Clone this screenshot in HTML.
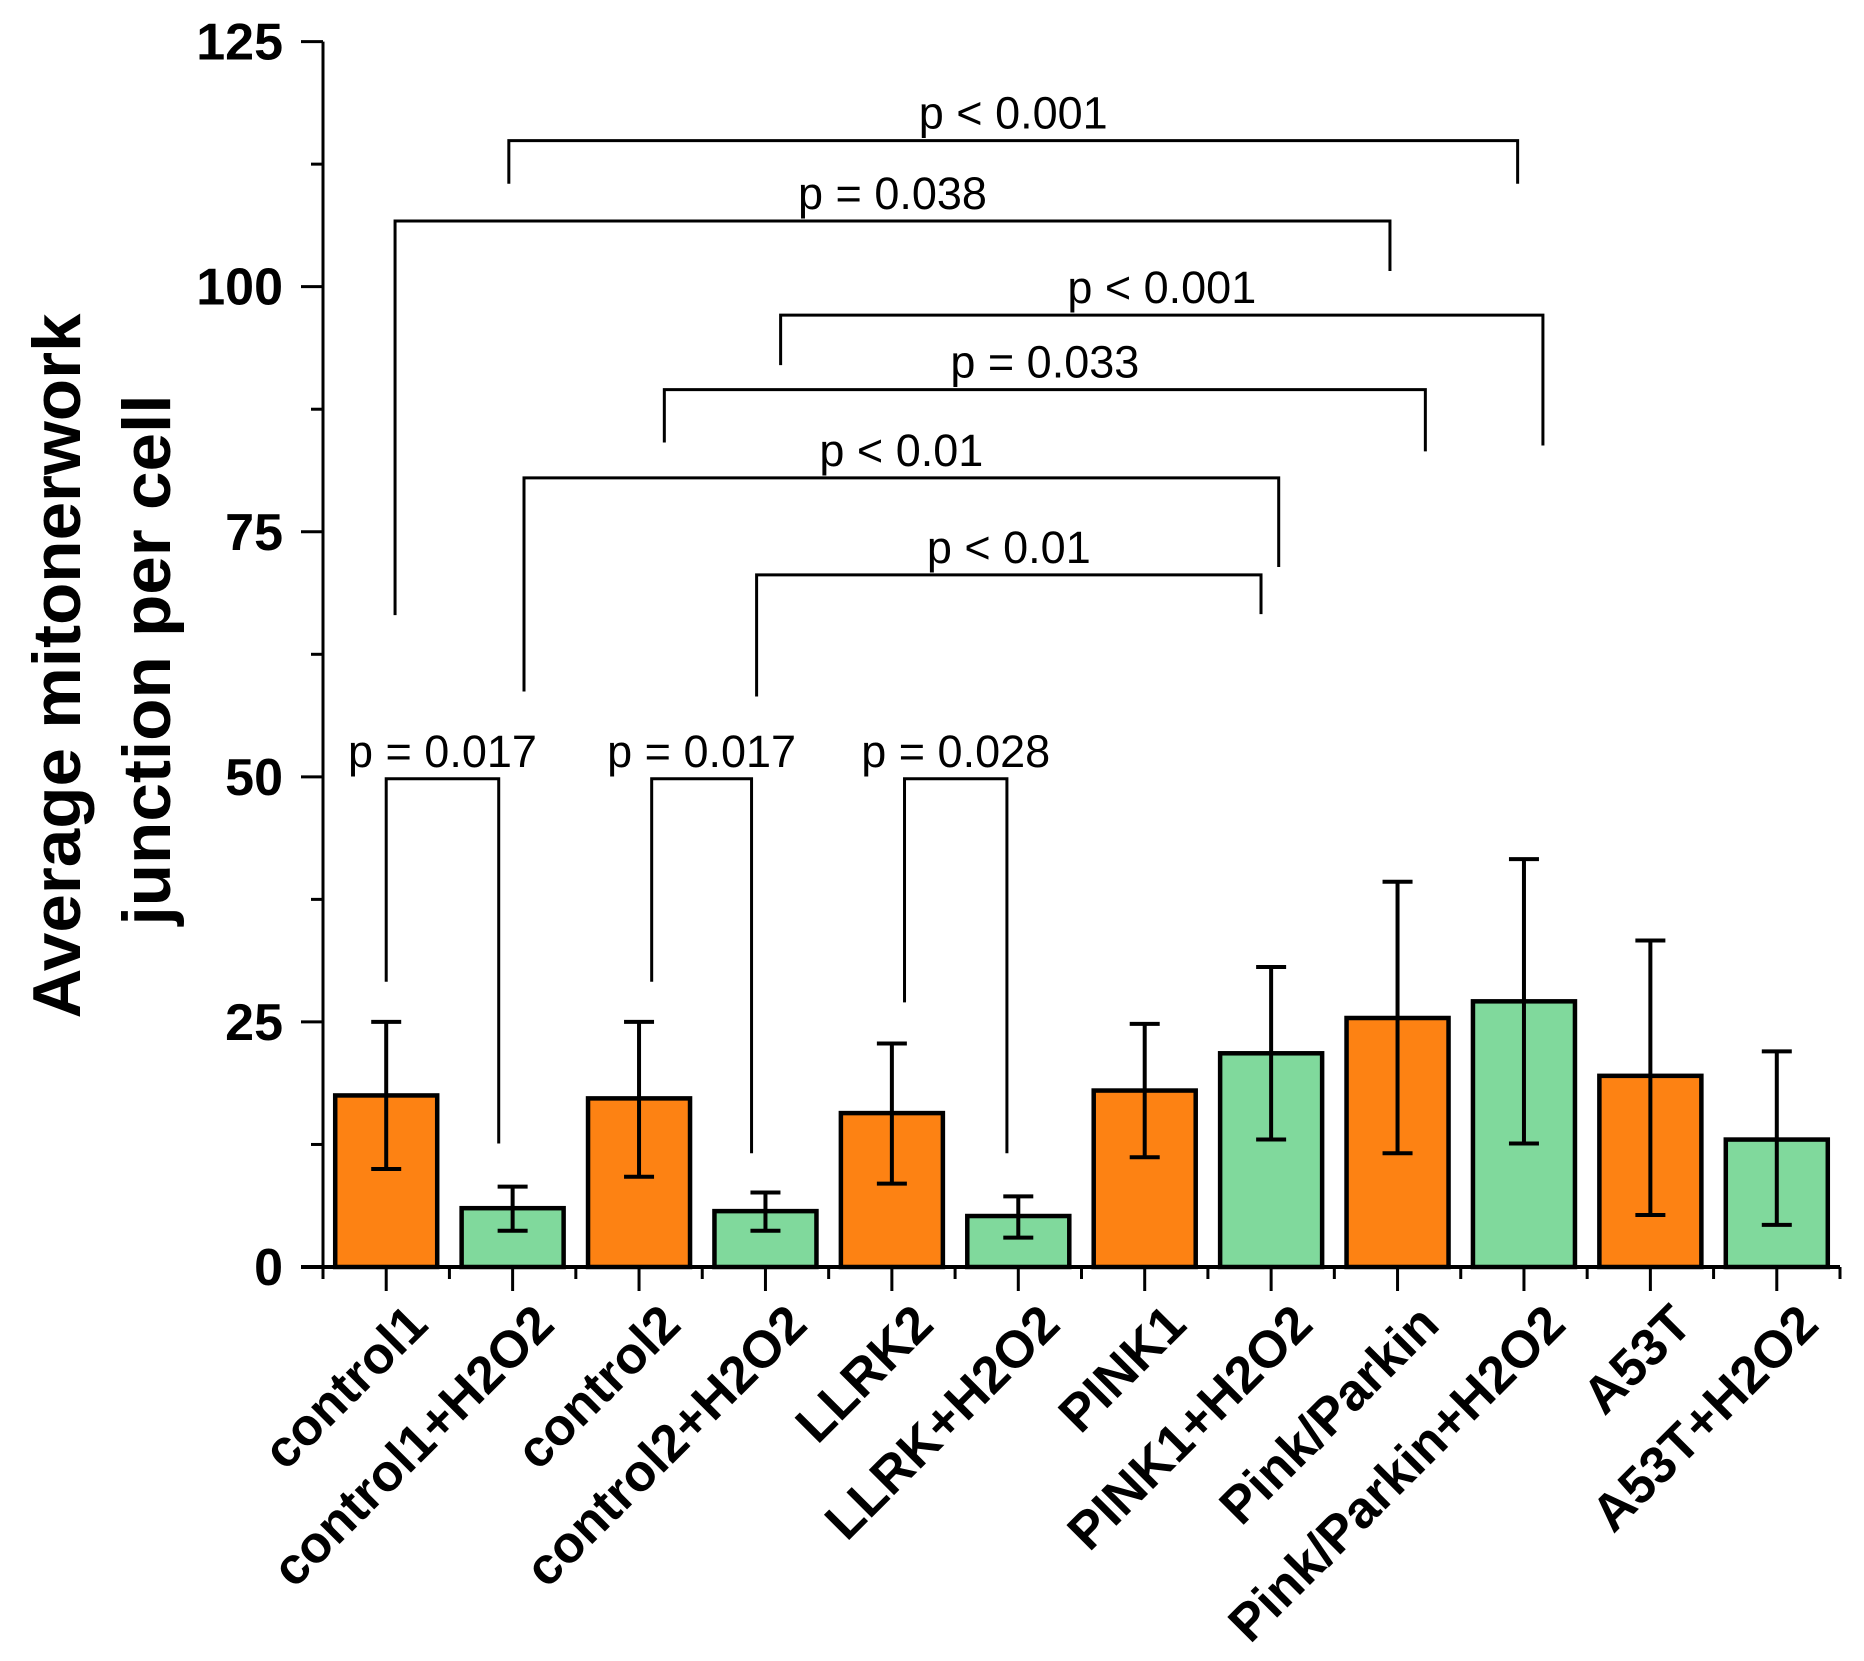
<!DOCTYPE html>
<html><head><meta charset="utf-8"><style>
html,body{margin:0;padding:0;background:#fff;}
svg{display:block;font-family:"Liberation Sans",Arial,sans-serif;}
</style></head><body>
<svg id="chart" width="1864" height="1661" viewBox="0 0 1864 1661" xmlns="http://www.w3.org/2000/svg">
<g id="axes"></g>
<g id="brackets"></g>
<g id="bars"></g>
<text transform="translate(80,666) rotate(-90)" text-anchor="middle" font-weight="bold" font-size="68" textLength="705" lengthAdjust="spacingAndGlyphs">Average mitonerwork</text>
<text transform="translate(170,660) rotate(-90)" text-anchor="middle" font-weight="bold" font-size="68" textLength="531" lengthAdjust="spacingAndGlyphs">junction per cell</text>
</svg>
<script>
const categories = ["control1","control1+H2O2","control2","control2+H2O2","LLRK2","LLRK+H2O2","PINK1","PINK1+H2O2","Pink/Parkin","Pink/Parkin+H2O2","A53T","A53T+H2O2"];
const means = [17.5,6,17.2,5.7,15.7,5.2,18,21.8,25.4,27.1,19.5,13];
const errUpper = [25,8.2,25,7.6,22.8,7.2,24.8,30.6,39.3,41.6,33.3,22];
const errLower = [10,3.7,9.2,3.7,8.5,3.0,11.2,13,11.6,12.6,5.3,4.3];
const groupType = ["c","t","c","t","c","t","c","t","c","t","c","t"];
const yTicks = [0,25,50,75,100,125];
const yTickLabels = ["0","25","50","75","100","125"];
// brackets: [x1 (category units), x2, y, leftLegEnd, rightLegEnd, label]
const bracketX1 = [0.97,0.07,3.12,2.20,1.09,2.93,0,2.10,4.10];
const bracketX2 = [8.95,7.94,9.15,8.22,7.06,6.92,0.89,2.89,4.91];
const bracketY = [114.9,106.7,97.1,89.5,80.5,70.6,49.8,49.8,49.8];
const bracketLeftEnd = [110.5,66.5,92,84.1,58.7,58.2,29.1,29.1,27];
const bracketRightEnd = [110.5,101.6,83.8,83.2,71.4,66.6,12.6,11.6,11.6];
const bracketLabels = ["p < 0.001","p = 0.038","p < 0.001","p = 0.033","p < 0.01","p < 0.01","p = 0.017","p = 0.017","p = 0.028"];

const NS="http://www.w3.org/2000/svg";
const X0=323,X1=1840,Y0=1267,Y1=41.6;
const step=(X1-X0)/categories.length;
const x=i=>X0+step*(i+0.5);
const y=v=>Y0-(v/125)*(Y0-Y1);
function mk(tag,attrs,parent){const e=document.createElementNS(NS,tag);for(const k in attrs)e.setAttribute(k,attrs[k]);parent.appendChild(e);return e;}
const axes=document.getElementById('axes'),bg=document.getElementById('bars'),br=document.getElementById('brackets');

let l=mk('line',{x1:X0,y1:Y0,x2:X0,y2:Y1,stroke:'#000','stroke-width':3},axes);


for(let v=0;v<=125;v+=12.5){
  const major=(v%25===0);
  const t=mk('line',{x1:X0-(major?22:12),x2:X0,y1:y(v),y2:y(v),stroke:'#000','stroke-width':3},axes);
  
  
}
yTicks.forEach((v,i)=>{
  const t=mk('text',{x:283,y:y(v)+18,'text-anchor':'end','font-weight':'bold','font-size':52},axes);
  t.textContent=yTickLabels[i];
  
  
});
l=mk('line',{x1:X0-22,y1:Y0,x2:X1,y2:Y0,stroke:'#000','stroke-width':4},axes);


for(let i=0;i<=categories.length;i++){
  const t=mk('line',{x1:X0+step*i,x2:X0+step*i,y1:Y0,y2:Y0+12,stroke:'#000','stroke-width':3},axes);
  
  
}
categories.forEach((c,i)=>{
  const t=mk('line',{x1:x(i),x2:x(i),y1:Y0,y2:Y0+24,stroke:'#000','stroke-width':3},axes);
  
  
  const tx=mk('text',{'text-anchor':'end','font-weight':'bold','font-size':52,transform:`translate(${x(i)+44},${Y0+60}) rotate(-45)`},axes);
  tx.textContent=c;
  
  
});
const BW=102;
categories.forEach((c,i)=>{
  const r=mk('rect',{x:x(i)-BW/2,y:y(means[i]),width:BW,height:Y0-y(means[i]),fill:groupType[i]==='c'?'#fd8213':'#80d99c',stroke:'#000','stroke-width':4.5},bg);
  
  
  const g=mk('g',{stroke:'#000','stroke-width':4},bg);
  
  
  mk('line',{x1:x(i),x2:x(i),y1:y(errUpper[i]),y2:y(errLower[i])},g);
  mk('line',{x1:x(i)-15,x2:x(i)+15,y1:y(errUpper[i]),y2:y(errUpper[i])},g);
  mk('line',{x1:x(i)-15,x2:x(i)+15,y1:y(errLower[i]),y2:y(errLower[i])},g);
});
bracketLabels.forEach((lab,i)=>{
  const xa=x(bracketX1[i]),xb=x(bracketX2[i]),yy=y(bracketY[i]);
  const p=mk('path',{d:`M${xa},${y(bracketLeftEnd[i])} V${yy} H${xb} V${y(bracketRightEnd[i])}`,fill:'none',stroke:'#000','stroke-width':3},br);
  
  
  const t=mk('text',{x:(xa+xb)/2,y:yy-12,'text-anchor':'middle','font-size':45},br);
  t.textContent=lab;
  
  
});
</script>
</body></html>
